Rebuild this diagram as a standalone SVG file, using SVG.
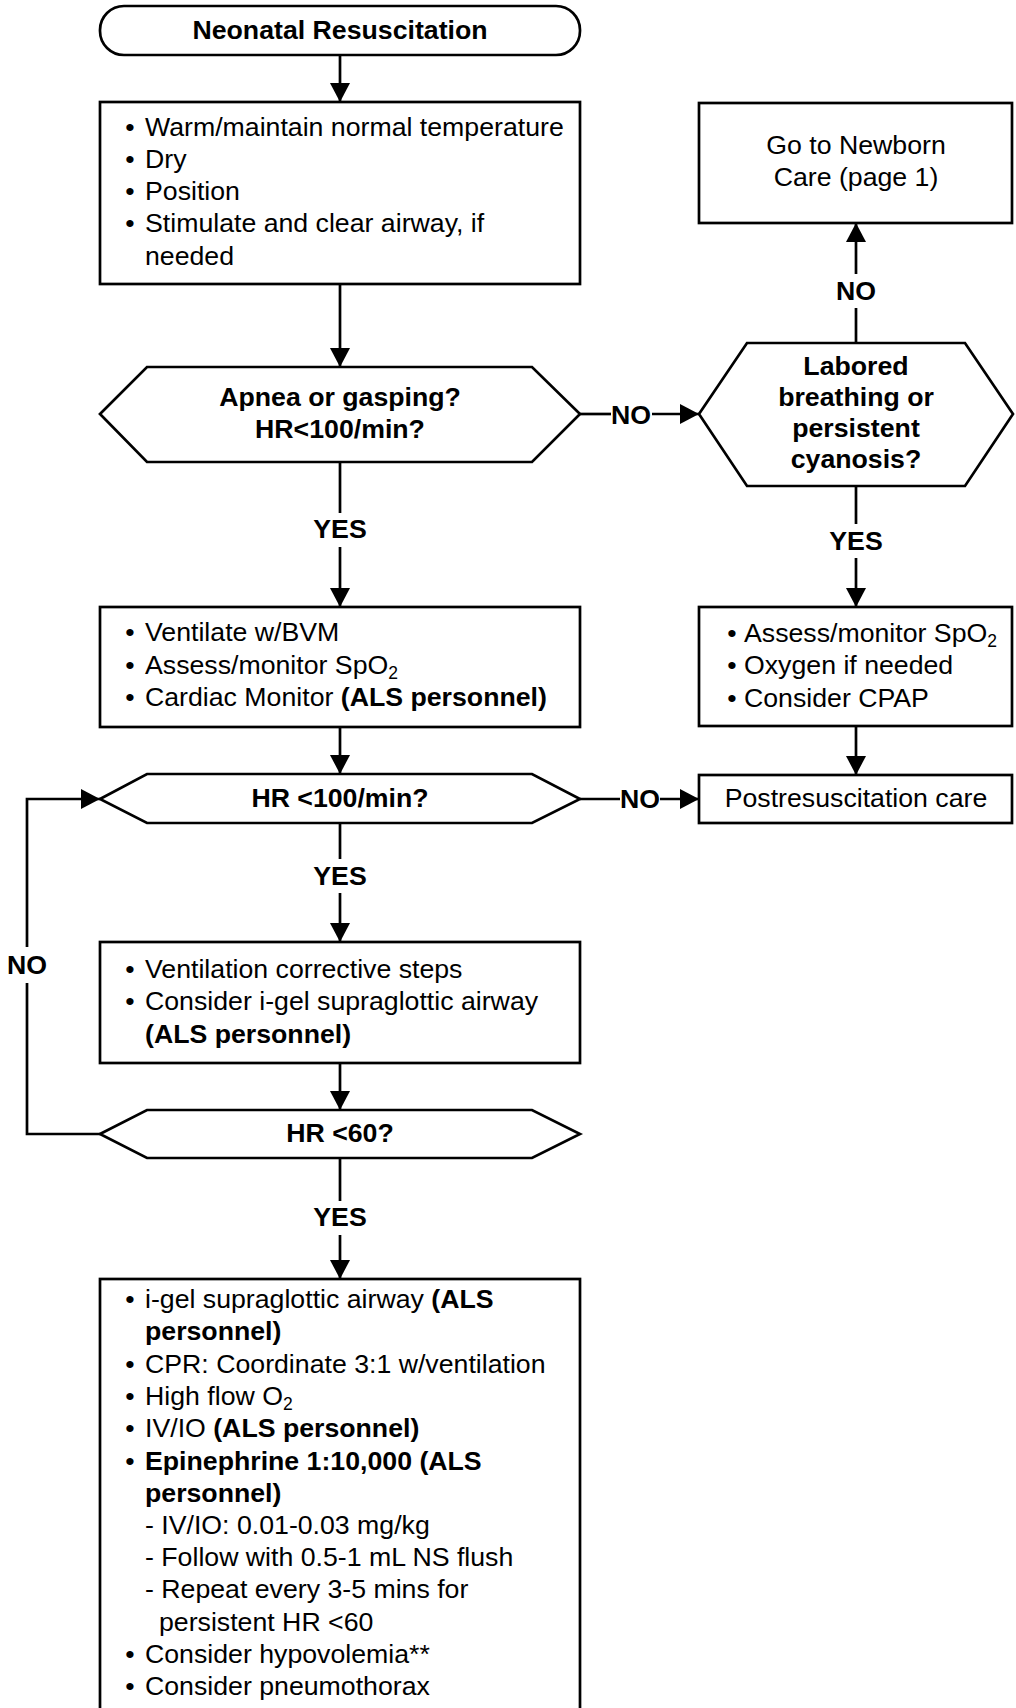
<svg xmlns="http://www.w3.org/2000/svg" width="1016" height="1708" viewBox="0 0 1016 1708">
<style>
.t{font-family:"Liberation Sans",Arial,sans-serif;font-size:26.7px;fill:#000}
.b{font-weight:bold}
.c{text-anchor:middle}
.sub{font-size:17.5px}
.s{fill:#fff;stroke:#000;stroke-width:2.7}
.ln{fill:none;stroke:#000;stroke-width:2.7}
</style>
<defs>
<marker id="ah" markerUnits="userSpaceOnUse" markerWidth="20" markerHeight="20" refX="19" refY="10" orient="auto">
<path d="M0,0 L19,10 L0,20 Z" fill="#000"/>
</marker>
</defs>
<rect width="1016" height="1708" fill="#fff"/>

<g id="start">
<rect class="s" x="100" y="6" width="480" height="49" rx="24"/>
<text class="t b c" x="340" y="39">Neonatal Resuscitation</text>
</g>

<g id="initial-steps">
<rect class="s" x="100" y="102" width="480" height="182"/>
<text class="t" x="130" y="136" text-anchor="middle">•</text>
<text class="t" x="145" y="136">Warm/maintain normal temperature</text>
<text class="t" x="130" y="168" text-anchor="middle">•</text>
<text class="t" x="145" y="168">Dry</text>
<text class="t" x="130" y="200" text-anchor="middle">•</text>
<text class="t" x="145" y="200">Position</text>
<text class="t" x="130" y="232" text-anchor="middle">•</text>
<text class="t" x="145" y="232">Stimulate and clear airway, if</text>
<text class="t" x="145" y="265">needed</text>
</g>

<g id="apnea-decision">
<polygon class="s" points="100,414 147,367 532,367 580,414 532,462 147,462"/>
<text class="t b c" x="340" y="406">Apnea or gasping?</text>
<text class="t b c" x="340" y="438">HR&lt;100/min?</text>
</g>

<g id="newborn-care">
<rect class="s" x="699" y="103" width="313" height="120"/>
<text class="t c" x="856" y="154">Go to Newborn</text>
<text class="t c" x="856" y="186">Care (page 1)</text>
</g>

<g id="labored-decision">
<polygon class="s" points="699,414 747,343 965,343 1013,414 965,486 747,486"/>
<text class="t b c" x="856" y="375">Labored</text>
<text class="t b c" x="856" y="406">breathing or</text>
<text class="t b c" x="856" y="437">persistent</text>
<text class="t b c" x="856" y="468">cyanosis?</text>
</g>

<g id="ventilate">
<rect class="s" x="100" y="607" width="480" height="120"/>
<text class="t" x="130" y="641" text-anchor="middle">•</text>
<text class="t" x="145" y="641">Ventilate w/BVM</text>
<text class="t" x="130" y="674" text-anchor="middle">•</text>
<text class="t" x="145" y="674">Assess/monitor SpO<tspan class="sub" dy="5">2</tspan></text>
<text class="t" x="130" y="706" text-anchor="middle">•</text>
<text class="t" x="145" y="706">Cardiac Monitor <tspan class="b">(ALS personnel)</tspan></text>
</g>

<g id="assess-oxygen">
<rect class="s" x="699" y="607" width="313" height="119"/>
<text class="t" x="732" y="642" text-anchor="middle">•</text>
<text class="t" x="744" y="642">Assess/monitor SpO<tspan class="sub" dy="5">2</tspan></text>
<text class="t" x="732" y="674" text-anchor="middle">•</text>
<text class="t" x="744" y="674">Oxygen if needed</text>
<text class="t" x="732" y="707" text-anchor="middle">•</text>
<text class="t" x="744" y="707">Consider CPAP</text>
</g>

<g id="hr100-decision">
<polygon class="s" points="100,799 147,774 532,774 580,799 532,823 147,823"/>
<text class="t b c" x="340" y="807">HR &lt;100/min?</text>
</g>

<g id="postresuscitation">
<rect class="s" x="699" y="775" width="313" height="48"/>
<text class="t c" x="856" y="807">Postresuscitation care</text>
</g>

<g id="corrective-steps">
<rect class="s" x="100" y="942" width="480" height="121"/>
<text class="t" x="130" y="978" text-anchor="middle">•</text>
<text class="t" x="145" y="978">Ventilation corrective steps</text>
<text class="t" x="130" y="1010" text-anchor="middle">•</text>
<text class="t" x="145" y="1010">Consider i-gel supraglottic airway</text>
<text class="t b" x="145" y="1043">(ALS personnel)</text>
</g>

<g id="hr60-decision">
<polygon class="s" points="100,1134 147,1110 532,1110 580,1134 532,1158 147,1158"/>
<text class="t b c" x="340" y="1142">HR &lt;60?</text>
</g>

<g id="cpr-epinephrine">
<rect class="s" x="100" y="1279" width="480" height="460"/>
<text class="t" x="130" y="1308" text-anchor="middle">•</text>
<text class="t" x="145" y="1308">i-gel supraglottic airway <tspan class="b">(ALS</tspan></text>
<text class="t b" x="145" y="1340">personnel)</text>
<text class="t" x="130" y="1373" text-anchor="middle">•</text>
<text class="t" x="145" y="1373">CPR: Coordinate 3:1 w/ventilation</text>
<text class="t" x="130" y="1405" text-anchor="middle">•</text>
<text class="t" x="145" y="1405">High flow O<tspan class="sub" dy="5">2</tspan></text>
<text class="t" x="130" y="1437" text-anchor="middle">•</text>
<text class="t" x="145" y="1437">IV/IO <tspan class="b">(ALS personnel)</tspan></text>
<text class="t" x="130" y="1470" text-anchor="middle">•</text>
<text class="t b" x="145" y="1470">Epinephrine 1:10,000 (ALS</text>
<text class="t b" x="145" y="1502">personnel)</text>
<text class="t" x="145" y="1534">- IV/IO: 0.01-0.03 mg/kg</text>
<text class="t" x="145" y="1566">- Follow with 0.5-1 mL NS flush</text>
<text class="t" x="145" y="1598">- Repeat every 3-5 mins for</text>
<text class="t" x="159" y="1631">persistent HR &lt;60</text>
<text class="t" x="130" y="1663" text-anchor="middle">•</text>
<text class="t" x="145" y="1663">Consider hypovolemia**</text>
<text class="t" x="130" y="1695" text-anchor="middle">•</text>
<text class="t" x="145" y="1695">Consider pneumothorax</text>
</g>

<g id="connectors">
<path class="ln" d="M340,55 V102" marker-end="url(#ah)"/>
<path class="ln" d="M340,284 V367" marker-end="url(#ah)"/>
<path class="ln" d="M340,462 V513"/>
<path class="ln" d="M340,547 V607" marker-end="url(#ah)"/>
<text class="t b c" x="340" y="538">YES</text>
<path class="ln" d="M340,727 V774" marker-end="url(#ah)"/>
<path class="ln" d="M340,823 V859"/>
<path class="ln" d="M340,893 V942" marker-end="url(#ah)"/>
<text class="t b c" x="340" y="885">YES</text>
<path class="ln" d="M340,1063 V1110" marker-end="url(#ah)"/>
<path class="ln" d="M340,1158 V1201"/>
<path class="ln" d="M340,1235 V1279" marker-end="url(#ah)"/>
<text class="t b c" x="340" y="1226">YES</text>
<path class="ln" d="M100,1134 H27 V983"/>
<path class="ln" d="M27,947 V799 H100" marker-end="url(#ah)"/>
<text class="t b c" x="27" y="974">NO</text>
<path class="ln" d="M580,414 H611"/>
<path class="ln" d="M652,414 H699" marker-end="url(#ah)"/>
<text class="t b c" x="631" y="424">NO</text>
<path class="ln" d="M856,343 V308"/>
<path class="ln" d="M856,274 V223" marker-end="url(#ah)"/>
<text class="t b c" x="856" y="300">NO</text>
<path class="ln" d="M856,486 V524"/>
<path class="ln" d="M856,558 V607" marker-end="url(#ah)"/>
<text class="t b c" x="856" y="550">YES</text>
<path class="ln" d="M856,726 V775" marker-end="url(#ah)"/>
<path class="ln" d="M580,799 H620"/>
<path class="ln" d="M660,799 H699" marker-end="url(#ah)"/>
<text class="t b c" x="640" y="808">NO</text>
</g>
</svg>
